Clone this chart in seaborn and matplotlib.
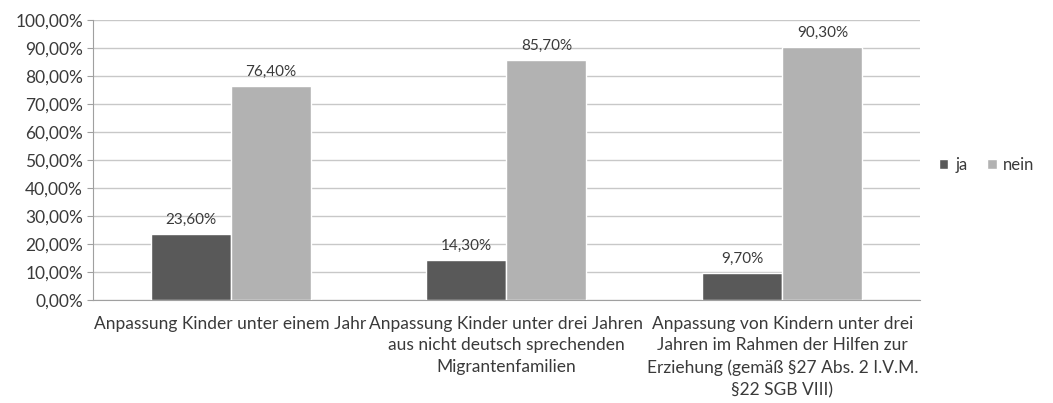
import pandas as pd
import seaborn as sns
import matplotlib.pyplot as plt
from matplotlib.ticker import FuncFormatter

kategorien = [
    "Anpassung Kinder unter einem Jahr",
    "Anpassung Kinder unter drei Jahren\naus nicht deutsch sprechenden\nMigrantenfamilien",
    "Anpassung von Kindern unter drei\nJahren im Rahmen der Hilfen zur\nErziehung (gemäß §27 Abs. 2 I.V.M.\n§22 SGB VIII)",
]
ja = [23.6, 14.3, 9.7]
nein = [76.4, 85.7, 90.3]

df = pd.DataFrame({
    "kategorie": kategorien * 2,
    "antwort": ["ja"] * 3 + ["nein"] * 3,
    "wert": ja + nein,
})

sns.set_style("white")
plt.rcParams["font.family"] = ["Lato", "DejaVu Sans"]
text_farbe = "#3a3a3a"

fig = plt.figure(figsize=(10.53, 4.03), dpi=100)
ax = fig.add_axes([0.088, 0.255, 0.786, 0.695])

sns.barplot(data=df, x="kategorie", y="wert", hue="antwort",
            palette={"ja": "#595959", "nein": "#b2b2b2"},
            width=0.58, gap=0, saturation=1, ax=ax, zorder=3)

for cont in ax.containers:
    ax.bar_label(cont, labels=[f"{v.get_height():.2f}%".replace(".", ",") for v in cont],
                 padding=5, fontsize=11, color=text_farbe)

ax.set_ylim(0, 100)
ax.set_yticks(range(0, 101, 10))
ax.yaxis.set_major_formatter(FuncFormatter(lambda v, p: f"{v:.2f}%".replace(".", ",")))
ax.grid(axis="y", color="#c8c8c8", linewidth=1, zorder=0)
ax.set_xlabel("")
ax.set_ylabel("")
ax.tick_params(axis="y", labelsize=12.5, labelcolor=text_farbe, length=4, color="#a0a0a0", left=True, pad=3)
ax.tick_params(axis="x", labelsize=12.5, labelcolor=text_farbe, length=0, pad=11)
for lbl in ax.get_xticklabels():
    lbl.set_linespacing(1.45)
for s in ["top", "right"]:
    ax.spines[s].set_visible(False)
for s in ["left", "bottom"]:
    ax.spines[s].set_color("#a0a0a0")

handles, labels = ax.get_legend_handles_labels()
ax.legend_.remove()
leg = fig.legend(handles, labels, loc="center left", bbox_to_anchor=(0.892, 0.59),
                 frameon=False, ncol=2, fontsize=12, handlelength=0.55, handleheight=0.55,
                 columnspacing=1.2, handletextpad=0.4, borderpad=0, borderaxespad=0)
for t in leg.get_texts():
    t.set_color(text_farbe)

fig.savefig("out.png", dpi=100)
